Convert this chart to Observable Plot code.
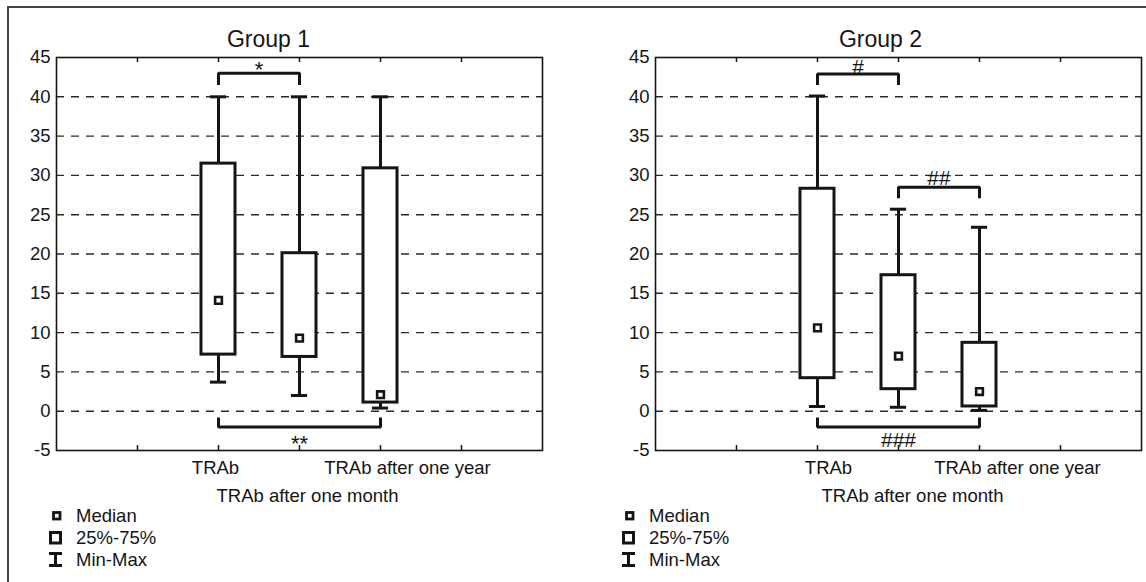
<!DOCTYPE html>
<html>
<head>
<meta charset="utf-8">
<script src="https://cdn.jsdelivr.net/npm/d3@7"></script>
<script src="https://cdn.jsdelivr.net/npm/@observablehq/plot@0.6"></script>
<style>
  body { margin: 0; background: #fff; }
  #fig { position: relative; width: 1146px; height: 582px; overflow: hidden;
         font-family: "Liberation Sans", Arial, sans-serif; color: #111; }
  .outer-top { position: absolute; left: 8px; top: 6px; width: 1140px; height: 0; border-top: 2px solid #444; }
  .outer-left { position: absolute; left: 7px; top: 6px; width: 0; height: 580px; border-left: 2px solid #444; }
  .panel { position: absolute; top: 0; width: 573px; height: 582px; }
  .panel svg.legend { position: absolute; left: 0; top: 0; }
</style>
</head>
<body>
<div id="fig">
  <div class="outer-top"></div>
  <div class="outer-left"></div>
</div>
<script>
// ---- data ----
const categories = ["TRAb", "TRAb after one month", "TRAb after one year"];
const categorySlot = [2, 3, 4];          // slot of each category on the 0..6 x axis
const xTicks = [1, 2, 3, 4, 5];
const yTicks = [-5, 0, 5, 10, 15, 20, 25, 30, 35, 40, 45];
const gridLevels = [0, 5, 10, 15, 20, 25, 30, 35, 40];

const g1Title = "Group 1";
const g1Min = [3.7, 2.0, 0.4];
const g1Q1  = [7.2, 6.9, 1.1];
const g1Med = [14.1, 9.3, 2.1];
const g1Q3  = [31.5, 20.1, 30.9];
const g1Max = [40, 40, 40];
const g1BracketFrom = [0, 0];
const g1BracketTo   = [1, 2];
const g1BracketY    = [43.0, -2.0];
const g1BracketTip  = [41.5, -0.8];
const g1BracketText = ["*", "**"];

const g2Title = "Group 2";
const g2Min = [0.6, 0.5, 0.1];
const g2Q1  = [4.2, 2.8, 0.6];
const g2Med = [10.6, 7.0, 2.5];
const g2Q3  = [28.3, 17.3, 8.7];
const g2Max = [40.1, 25.7, 23.4];
const g2BracketFrom = [0, 1, 0];
const g2BracketTo   = [1, 2, 2];
const g2BracketY    = [42.9, 28.5, -2.0];
const g2BracketTip  = [41.5, 27.1, -0.8];
const g2BracketText = ["#", "##", "###"];

const legendLabels = ["Median", "25%-75%", "Min-Max"];

// ---- drawing ----
const INK = "#151515";
const FONT = "Liberation Sans, Arial, sans-serif";

function makePanel(cfg) {
  const rows = categories.map((c, i) => ({
    cat: c, x: categorySlot[i],
    min: cfg.min[i], q1: cfg.q1[i], med: cfg.med[i], q3: cfg.q3[i], max: cfg.max[i]
  }));
  const brackets = cfg.bFrom.map((f, i) => ({
    id: i,
    x1: categorySlot[f], x2: categorySlot[cfg.bTo[i]],
    y: cfg.bY[i], tip: cfg.bTip[i], label: cfg.bText[i]
  }));
  const bracketPts = brackets.flatMap(b => [
    {id: b.id, x: b.x1, y: b.tip},
    {id: b.id, x: b.x1, y: b.y},
    {id: b.id, x: b.x2, y: b.y},
    {id: b.id, x: b.x2, y: b.tip}
  ]);

  const labelMarks = rows.map((r, i) => Plot.text([r.cat], {
    x: r.x, frameAnchor: "bottom",
    dy: i === 1 ? 51 : 23, dx: cfg.labelDx[i],
    fontSize: 18.5, fill: INK
  }));
  const sigMarks = brackets.map((b, i) => Plot.text([b.label], {
    x: (b.x1 + b.x2) / 2, y: b.y,
    dy: cfg.sigDy[i], fontSize: cfg.sigSize, fill: INK
  }));

  const plot = Plot.plot({
    width: 573, height: 582,
    marginLeft: cfg.left, marginRight: 573 - cfg.left - 486,
    marginTop: 57, marginBottom: 132,
    x: {domain: [0, 6], axis: null},
    y: {domain: [-5, 45], axis: null},
    style: {fontFamily: FONT, fontSize: "18px", color: INK, background: "transparent", overflow: "visible"},
    marks: [
      Plot.ruleY(gridLevels, {stroke: "#2a2a2a", strokeWidth: 1.4, strokeDasharray: "8,7"}),
      Plot.axisY(yTicks, {tickSize: 0, tickPadding: 6, fontSize: 18.5, label: null,
                          tickFormat: d => String(d), fill: INK}),
      Plot.tickX(xTicks, {x: d => d, insetBottom: 388, stroke: INK, strokeWidth: 1.5}),
      Plot.tickX(xTicks, {x: d => d, insetTop: 388, stroke: INK, strokeWidth: 1.5}),
      Plot.frame({stroke: INK, strokeWidth: 1.6}),
      Plot.ruleX(rows, {x: "x", y1: "q3", y2: "max", stroke: INK, strokeWidth: 3}),
      Plot.ruleX(rows, {x: "x", y1: "min", y2: "q1", stroke: INK, strokeWidth: 3}),
      Plot.ruleY(rows, {y: "max", x1: d => d.x - 0.1, x2: d => d.x + 0.1, stroke: INK, strokeWidth: 3}),
      Plot.ruleY(rows, {y: "min", x1: d => d.x - 0.1, x2: d => d.x + 0.1, stroke: INK, strokeWidth: 3}),
      Plot.rect(rows, {x1: d => d.x - 0.21, x2: d => d.x + 0.21, y1: "q1", y2: "q3",
                       fill: "white", stroke: INK, strokeWidth: 3}),
      Plot.dot(rows, {x: "x", y: "med", symbol: "square", r: 3.8, fill: "white",
                      stroke: INK, strokeWidth: 2.6}),
      Plot.line(bracketPts, {x: "x", y: "y", z: "id", stroke: INK, strokeWidth: 3,
                             strokeLinejoin: "miter", strokeLinecap: "butt"}),
      ...sigMarks,
      ...labelMarks,
      Plot.text([cfg.title], {frameAnchor: "top", dy: -27, dx: cfg.titleDx, fontSize: 23, fill: INK})
    ]
  });

  const div = document.createElement("div");
  div.className = "panel";
  div.style.left = cfg.offset + "px";
  div.appendChild(plot);

  // legend
  const svg = d3.create("svg").attr("class", "legend").attr("width", 200).attr("height", 582);
  const g = svg.append("g").attr("stroke", INK).attr("fill", "white");
  g.append("rect").attr("x", 53.5).attr("y", 512.5).attr("width", 6.5).attr("height", 6.5).attr("stroke-width", 2.8);
  g.append("rect").attr("x", 50.5).attr("y", 532.5).attr("width", 10).attr("height", 10.5).attr("stroke-width", 3);
  g.append("line").attr("x1", 49).attr("x2", 62).attr("y1", 553.5).attr("y2", 553.5).attr("stroke-width", 3);
  g.append("line").attr("x1", 49).attr("x2", 62).attr("y1", 565.5).attr("y2", 565.5).attr("stroke-width", 3);
  g.append("line").attr("x1", 55.5).attr("x2", 55.5).attr("y1", 553.5).attr("y2", 565.5).attr("stroke-width", 3);
  svg.append("g").selectAll("text").data(legendLabels).join("text")
    .attr("x", 76).attr("y", (d, i) => 516 + i * 22)
    .attr("dy", "0.35em")
    .attr("font-family", FONT).attr("font-size", 18.5).attr("fill", INK)
    .text(d => d);
  div.appendChild(svg.node());
  document.getElementById("fig").appendChild(div);
}

makePanel({
  offset: 0, left: 56, title: g1Title, titleDx: -31,
  min: g1Min, q1: g1Q1, med: g1Med, q3: g1Q3, max: g1Max,
  bFrom: g1BracketFrom, bTo: g1BracketTo, bY: g1BracketY, bTip: g1BracketTip, bText: g1BracketText,
  sigDy: [-3, 17], sigSize: 22, labelDx: [-3, 8, 27]
});
makePanel({
  offset: 573, left: 82, title: g2Title, titleDx: -18,
  min: g2Min, q1: g2Q1, med: g2Med, q3: g2Q3, max: g2Max,
  bFrom: g2BracketFrom, bTo: g2BracketTo, bY: g2BracketY, bTip: g2BracketTip, bText: g2BracketText,
  sigDy: [-7, -9, 13], sigSize: 21, labelDx: [11, 14, 38]
});
</script>
</body>
</html>
